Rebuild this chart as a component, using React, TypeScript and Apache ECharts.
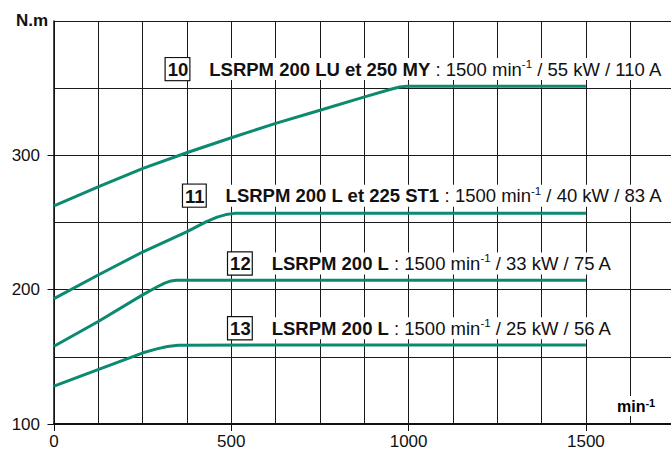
import React, { useEffect, useRef } from "react";
import * as echarts from "echarts";

// ---- data ----
const speedLabelValues = [0, 500, 1000, 1500];
const torqueLabelValues = [100, 200, 300];

const curve10: [number, number][] = [
  [0, 262.4], [126, 276.7], [251, 290.3], [374, 301.9], [500, 313.1],
  [625, 323.8], [750, 333.6], [876, 343.5], [950, 349.2], [975, 350.9], [995, 351.5], [1500, 351.5],
];
const curve11: [number, number][] = [
  [0, 193.3], [126, 211.1], [251, 228.2], [374, 243.0], [430, 250.7],
  [460, 254.0], [485, 255.9], [510, 256.8], [1500, 256.8],
];
const curve12: [number, number][] = [
  [0, 157.9], [126, 176.5], [251, 196.3], [290, 202.0], [312, 204.9], [330, 206.5], [345, 207.0], [1500, 207.0],
];
const curve13: [number, number][] = [
  [0, 128.2], [126, 140.6], [251, 153.0], [290, 155.9], [320, 157.7], [350, 158.7], [1500, 158.8],
];

const curveIds = ["10", "11", "12", "13"];
const curveModels = ["LSRPM 200 LU et 250 MY", "LSRPM 200 L et 225 ST1", "LSRPM 200 L", "LSRPM 200 L"];
const curveSpecsBefore = [" : 1500 min", " : 1500 min", " : 1500 min", " : 1500 min"];
const curveSpecsAfter = [" / 55 kW / 110 A", " / 40 kW / 83 A", " / 33 kW / 75 A", " / 25 kW / 56 A"];
const labelSpeed = [315, 364, 491, 491];
const labelTorque = [364.2, 270, 219.5, 171.3];

const curves = [curve10, curve11, curve12, curve13];

const TEAL = "#0b8a6f";
const INK = "#111";
const FONT = "'Liberation Sans', Arial, Helvetica, sans-serif";

export default function App() {
  const ref = useRef<HTMLDivElement>(null);

  useEffect(() => {
    if (!ref.current) return;
    const chart = echarts.init(ref.current, undefined, { renderer: "svg" });

    const rich = {
      box: {
        fontFamily: FONT, fontSize: 18.5, fontWeight: "bold", color: INK,
        borderColor: INK, borderWidth: 1.2, backgroundColor: "#fff",
        padding: [2, 1, 1, 2], lineHeight: 18,
      },
      gap: { width: 20, fontSize: 18, lineHeight: 22 },
      b: { fontFamily: FONT, fontSize: 18.5, fontWeight: "bold", color: INK, lineHeight: 22 },
      r: { fontFamily: FONT, fontSize: 18.5, color: INK, lineHeight: 22 },
      sup: { fontFamily: FONT, fontSize: 11.5, color: INK, lineHeight: 12, verticalAlign: "top" },
    };

    const series = curves.map((data, i) => ({
      type: "line",
      data,
      xAxisIndex: 0,
      yAxisIndex: 0,
      symbol: "none",
      smooth: false,
      lineStyle: { color: TEAL, width: 3, join: "round" },
      z: 3,
      markPoint: {
        symbol: "circle",
        symbolSize: 0,
        silent: true,
        z: 6,
        data: [
          {
            coord: [labelSpeed[i], labelTorque[i]],
            label: {
              show: true,
              position: "right",
              distance: 0,
              backgroundColor: "#fff",
              padding: [0, 6, 0, 0],
              formatter:
                `{box|${curveIds[i]}}{gap| }{b|${curveModels[i]}}{r|${curveSpecsBefore[i]}}{sup|-1}{r|${curveSpecsAfter[i]}}`,
              rich,
            },
          },
        ],
      },
    }));

    chart.setOption({
      animation: false,
      backgroundColor: "#fff",
      grid: { left: 54, right: 0, top: 21, bottom: 25, containLabel: false },
      xAxis: [
        {
          type: "value", min: 0, max: 1740, interval: 125,
          axisLine: { show: false }, axisTick: { show: false }, axisLabel: { show: false },
          splitLine: { show: true, lineStyle: { color: "#1a1a1a", width: 1 } },
        },
        {
          type: "value", min: 0, max: 1740, position: "bottom",
          axisLine: { show: true, onZero: false, lineStyle: { color: INK, width: 2 } },
          axisTick: { show: true, length: 7, lineStyle: { color: INK, width: 1 }, customValues: speedLabelValues },
          axisLabel: {
            show: true, margin: 9, color: INK, fontSize: 17, fontFamily: FONT,
            customValues: speedLabelValues,
            formatter: (v: number) => String(v),
          },
          splitLine: { show: false },
        },
      ],
      yAxis: [
        {
          type: "value", min: 100, max: 400, interval: 50,
          axisLine: { show: false }, axisTick: { show: false }, axisLabel: { show: false },
          splitLine: { show: true, lineStyle: { color: "#1a1a1a", width: 1 } },
        },
        {
          type: "value", min: 100, max: 400, position: "left",
          axisLine: { show: true, onZero: false, lineStyle: { color: INK, width: 1.5 } },
          axisTick: { show: true, length: 6.5, lineStyle: { color: INK, width: 1 }, customValues: torqueLabelValues },
          axisLabel: {
            show: true, margin: 14, color: INK, fontSize: 17, fontFamily: FONT,
            customValues: torqueLabelValues,
            formatter: (v: number) => String(v),
          },
          splitLine: { show: false },
        },
      ],
      series,
      graphic: [
        {
          type: "text", left: 16, top: 12, z: 10,
          style: { text: "N.m", font: `bold 17px ${FONT}`, fill: INK },
        },
        {
          type: "text", left: 613, top: 396, z: 10,
          style: {
            text: "{m|min}{s|-1}",
            backgroundColor: "#fff",
            padding: [1, 3, 1, 4],
            rich: {
              m: { fontFamily: FONT, fontSize: 16, fontWeight: "bold", color: INK, lineHeight: 18 },
              s: { fontFamily: FONT, fontSize: 11, fontWeight: "bold", color: INK, lineHeight: 12, verticalAlign: "top" },
            },
          },
        },
      ],
    });

    return () => chart.dispose();
  }, []);

  return (
    <div
      ref={ref}
      style={{ position: "fixed", left: 0, top: 0, width: 671, height: 450, background: "#fff" }}
    />
  );
}
